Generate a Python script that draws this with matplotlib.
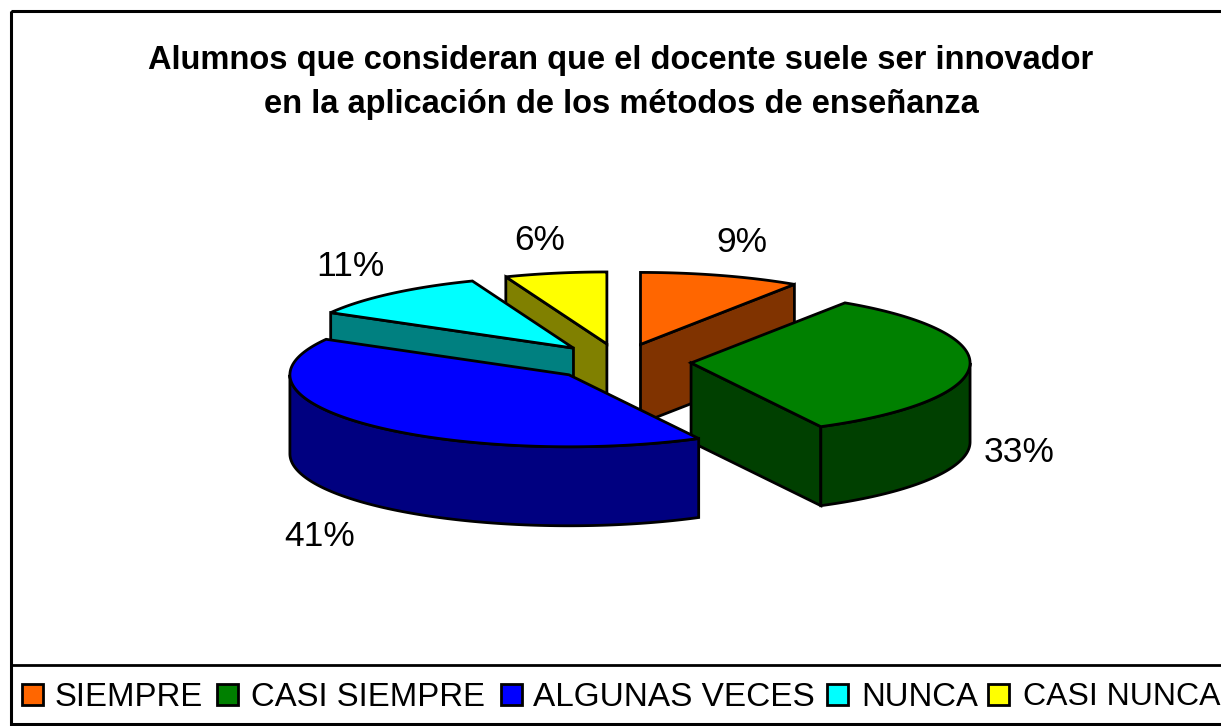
import numpy as np
import matplotlib
matplotlib.use("Agg")
import matplotlib.pyplot as plt
from matplotlib.patches import Polygon, Rectangle

categories = ["SIEMPRE", "CASI SIEMPRE", "ALGUNAS VECES", "NUNCA", "CASI NUNCA"]
values = [9.3, 33.0, 40.9, 10.9, 5.9]
title_lines = ["Alumnos que consideran que el docente suele ser innovador",
               "en la aplicación de los métodos de enseñanza"]

top_colors = ["#FF6600", "#008000", "#0000FF", "#00FFFF", "#FFFF00"]
side_colors = ["#803300", "#004000", "#000080", "#008080", "#808000"]
label_pos = [(742, 242), (1019, 452), (320, 537), (350, 266), (540, 241)]
legend_box_x = [22, 217, 501, 827, 988]
legend_text_x = [55, 251, 533, 861, 1023]
legend_sizes = [23.7, 23.7, 24.0, 23.7, 23.0]

W, H = 1221, 726
CX, CY, RX, RY, DEPTH, EXPLODE = 620, 362, 279, 72, 79, 0.255
LW = 2.0

fig = plt.figure(figsize=(W / 100, H / 100), dpi=100, facecolor="white")
ax = fig.add_axes([0, 0, 1, 1])
ax.set_xlim(0, W)
ax.set_ylim(H, 0)
ax.axis("off")
plt.rcParams["font.family"] = ["Liberation Sans", "DejaVu Sans"]


def pt(deg, rx=RX, ry=RY):
    a = np.radians(deg)
    return np.sin(a) * rx, -np.cos(a) * ry


def poly(points, face, z):
    ax.add_patch(Polygon(points, closed=True, facecolor=face, edgecolor="black",
                         linewidth=LW, joinstyle="miter", zorder=z))


total = sum(values)
edges = np.cumsum([0] + values) / total * 360
# back to front painting order of the slices
order = [0, 4, 3, 1, 2]
for z, i in enumerate(order):
    a0, a1 = edges[i], edges[i + 1]
    mid = (a0 + a1) / 2
    ox, oy = pt(mid, RX * EXPLODE, RY * EXPLODE)
    ax0, ay0 = CX + ox, CY + oy
    th = np.linspace(a0, a1, 120)
    rim = np.array([(ax0 + pt(t)[0], ay0 + pt(t)[1]) for t in th])
    base = z * 10 + 1
    # cut faces that look toward the viewer
    for ang in (a0, a1):
        px, py = ax0 + pt(ang)[0], ay0 + pt(ang)[1]
        facing = (ang == a1 and 0 < ang % 360 < 180) or (ang == a0 and 180 < ang % 360 < 360)
        if facing:
            poly([(ax0, ay0), (px, py), (px, py + DEPTH), (ax0, ay0 + DEPTH)],
                 side_colors[i], base)
    # outer rim wall on the front half
    lo, hi = max(a0, 90), min(a1, 270)
    if hi > lo:
        tf = np.linspace(lo, hi, 120)
        upper = [(ax0 + pt(t)[0], ay0 + pt(t)[1]) for t in tf]
        lower = [(x, y + DEPTH) for x, y in upper][::-1]
        poly(upper + lower, side_colors[i], base + 1)
    poly([(ax0, ay0)] + [tuple(p) for p in rim], top_colors[i], base + 2)

for v, (x, y) in zip(values, label_pos):
    ax.text(x, y, f"{v:.0f}%", fontsize=25.5, ha="center", va="center", color="black", zorder=100)

for k, line in enumerate(title_lines):
    ax.text(621, 60 + k * 44, line, fontsize=23.5, fontweight="bold", ha="center",
            va="center", color="black", zorder=100)

# chart and legend frames
ax.add_patch(Rectangle((11, 11), W + 20, 713, fill=False, edgecolor="black", linewidth=2.2, zorder=90))
ax.plot([11, W], [665, 665], color="black", linewidth=2.0, zorder=90)

for name, col, bx, tx, fs in zip(categories, top_colors, legend_box_x, legend_text_x, legend_sizes):
    ax.add_patch(Rectangle((bx, 684), 21, 21, facecolor=col, edgecolor="black", linewidth=2.0, zorder=91))
    ax.text(tx, 697, name, fontsize=fs, ha="left", va="center", color="black", zorder=100)

fig.savefig("out.png", dpi=100)
